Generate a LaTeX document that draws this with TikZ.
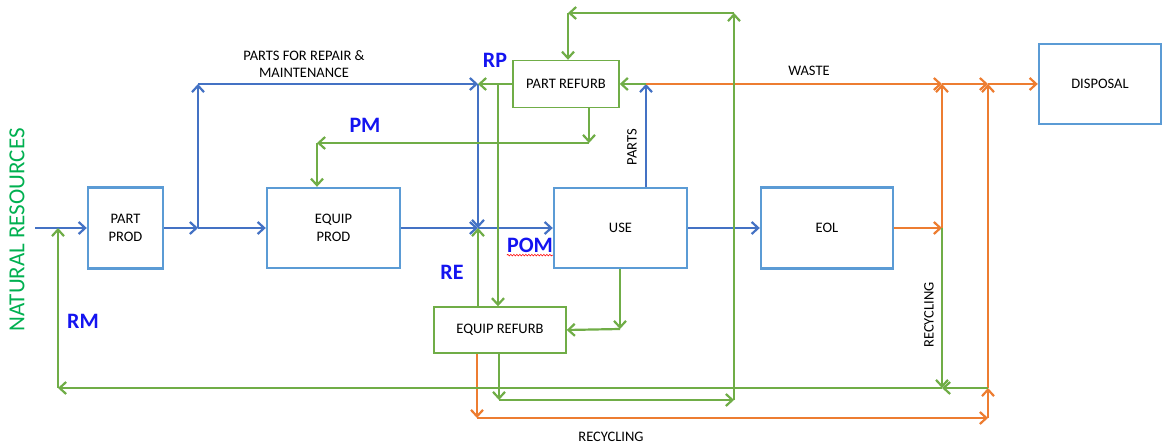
\documentclass[tikz,border=0pt]{standalone}
\usepackage{fontspec}
\setmainfont{Carlito}
\usepackage{tikz}
\usetikzlibrary{arrows.meta,calc,decorations.pathmorphing}

\definecolor{flowblue}{RGB}{68,114,196}
\definecolor{boxblue}{RGB}{91,155,213}
\definecolor{flowgreen}{RGB}{112,173,71}
\definecolor{floworange}{RGB}{237,125,49}
\definecolor{labelblue}{RGB}{20,20,240}
\definecolor{nrgreen}{RGB}{0,176,80}

\tikzset{
  stage/.style={draw=boxblue,line width=2.4pt,inner sep=0pt,align=center,font=\fontsize{14.5}{18}\selectfont},
  refurb/.style={draw=flowgreen,line width=1.4pt,inner sep=0pt,align=center,font=\fontsize{14.5}{18}\selectfont},
  flow/.style={line width=2.2pt,-{Straight Barb[length=6.5pt,width=12pt]}},
  bflow/.style={flow,draw=flowblue},
  gflow/.style={flow,draw=flowgreen},
  oflow/.style={flow,draw=floworange},
  tag/.style={text=labelblue,inner sep=0pt,font=\fontsize{22}{22}\selectfont\bfseries},
  note/.style={inner sep=0pt,align=center,font=\fontsize{14.5}{17}\selectfont},
}

\begin{document}
\begin{tikzpicture}[x=1pt,y=-1pt]
\useasboundingbox (0,0) rectangle (1162,446);

% stages
\node[stage,minimum width=75pt,minimum height=81pt] (partprod) at (125.5,228) {PART\\PROD};
\node[stage,minimum width=133pt,minimum height=80pt] (equipprod) at (333.5,228) {EQUIP\\PROD};
\node[stage,minimum width=133pt,minimum height=80pt] (use) at (620.5,228) {USE};
\node[stage,minimum width=132pt,minimum height=81pt] (eol) at (827,228) {EOL};
\node[stage,minimum width=122pt,minimum height=80pt] (disposal) at (1100,84) {DISPOSAL};
\node[refurb,minimum width=106pt,minimum height=47pt] (partrefurb) at (566,84) {PART REFURB};
\node[refurb,minimum width=132pt,minimum height=46pt] (equiprefurb) at (500,330) {EQUIP REFURB};

% junctions
\coordinate (nrin) at (35,228);
\coordinate (split) at (198,228);
\coordinate (repairup) at (198,84);
\coordinate (rp) at (478,84);
\coordinate (pom) at (478,228);
\coordinate (parts) at (646,84);
\coordinate (waste) at (942,84);
\coordinate (eolout) at (942,228);
\coordinate (eolrec) at (942,388);
\coordinate (dispin) at (988,84);
\coordinate (recjoin) at (988,388);
\coordinate (rm) at (58,388);
\coordinate (rmin) at (58,228);
\coordinate (rpdown) at (498,84);
\coordinate (pm) at (589,143);
\coordinate (pmleft) at (317,143);
\coordinate (loopdown) at (499,400);
\coordinate (loopright) at (734,400);
\coordinate (looptop) at (734,13);
\coordinate (loopleft) at (568,13);
\coordinate (usedown) at (620,329);
\coordinate (erdown) at (477,418);
\coordinate (erright) at (988,418);

% blue flows
\draw[bflow] (nrin) -- (partprod.west);
\draw[bflow] (partprod.east) -- (split);
\draw[bflow] (split) -- (equipprod.west);
\draw[bflow] (split) -- (repairup);
\draw[bflow] (repairup) -- (rp);
\draw[bflow] (rp) -- (pom);
\draw[bflow] (equipprod.east) -- (pom);
\draw[bflow] (pom) -- (use.west);
\draw[bflow] (use.east) -- (eol.west);
\draw[bflow] (parts |- use.north) -- (parts);

% orange flows
\draw[oflow] (parts) -- (waste);
\draw[oflow] (eol.east) -- (eolout);
\draw[oflow] (eolout) -- (waste);
\draw[oflow] (waste) -- (dispin);
\draw[oflow] (dispin) -- (disposal.west);
\draw[oflow] (recjoin) -- (dispin);
\draw[oflow] (erdown |- equiprefurb.south) -- (erdown);
\draw[oflow] (erdown) -- (erright);
\draw[oflow] (erright) -- (recjoin);

% green flows
\draw[gflow] (parts) -- (partrefurb.east);
\draw[gflow] (partrefurb.west) -- (rp);
\draw[gflow] (rpdown) -- (rpdown |- equiprefurb.north);
\draw[gflow] (pom |- equiprefurb.north) -- (pom);
\draw[gflow] (pm |- partrefurb.south) -- (pm);
\draw[gflow] (pm) -- (pmleft);
\draw[gflow] (pmleft) -- (pmleft |- equipprod.north);
\draw[gflow] (loopdown |- equiprefurb.south) -- (loopdown);
\draw[gflow] (loopdown) -- (loopright);
\draw[gflow] (loopright) -- (looptop);
\draw[gflow] (looptop) -- (loopleft);
\draw[gflow] (loopleft) -- (loopleft |- partrefurb.north);
\draw[gflow] (usedown |- use.south) -- (usedown);
\draw[gflow] (usedown) -- (equiprefurb.east);
\draw[gflow] (eolout) -- (eolrec);
\draw[gflow] (recjoin) -- (eolrec);
\draw[gflow] (eolrec) -- (rm);
\draw[gflow] (rm) -- (rmin);

% labels
\node[tag] (rplabel) at (495,60) {RP};
\node[tag] (pmlabel) at (365,125) {PM};
\node[tag] (relabel) at (452,272) {RE};
\node[tag] (pomlabel) at (530,245) {POM};
\node[tag] (rmlabel) at (83,321) {RM};
\draw[red,line width=0.6pt,decorate,decoration={snake,amplitude=0.8pt,segment length=3pt}]
  ([yshift=-3pt]pomlabel.base west) -- ([yshift=-3pt]pomlabel.base east);
\node[note] (repairlabel) at (304,64) {PARTS FOR REPAIR \&\\MAINTENANCE};
\node[note] (wastelabel) at (809,71) {WASTE};
\node[note,rotate=90] (partslabel) at (632,147) {PARTS};
\node[note,rotate=90] (recyclinglabel) at (929,315) {RECYCLING};
\node[note] (recyclingbottom) at (611,437) {RECYCLING};
\node[text=nrgreen,rotate=90,inner sep=0pt,font=\fontsize{23}{23}\selectfont] (nrlabel) at (17,230) {NATURAL RESOURCES};
\end{tikzpicture}
\end{document}
